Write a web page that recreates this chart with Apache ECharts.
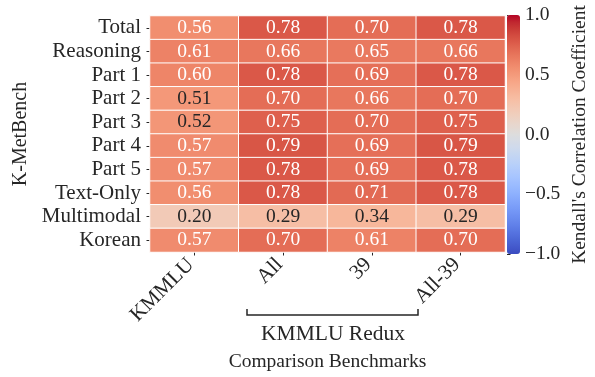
<!DOCTYPE html>
<html>
<head>
<meta charset="utf-8">
<script src="https://cdn.jsdelivr.net/npm/echarts@6/dist/echarts.min.js"></script>
<style>html,body{margin:0;padding:0;background:#fff;}#c{width:595px;height:377px;}</style>
</head>
<body>
<div id="c"></div>
<script>
const rows = ['Total','Reasoning','Part 1','Part 2','Part 3','Part 4','Part 5','Text-Only','Multimodal','Korean'];
const cols = ['KMMLU','All','39','All-39'];
const kmmlu = [0.56,0.61,0.60,0.51,0.52,0.57,0.57,0.56,0.20,0.57];
const reduxAll = [0.78,0.66,0.78,0.70,0.75,0.79,0.78,0.78,0.29,0.70];
const redux39 = [0.70,0.65,0.69,0.66,0.70,0.69,0.69,0.71,0.34,0.61];
const reduxAll39 = [0.78,0.66,0.78,0.70,0.75,0.79,0.78,0.78,0.29,0.70];
const cbarTicks = [-1.0,-0.5,0.0,0.5,1.0];

const columns = [kmmlu, reduxAll, redux39, reduxAll39];
const coolwarm = ['#3b4cc0','#445acc','#4d68d7','#5775e1','#6282ea','#6c8ef1','#779af7','#82a5fb','#8db0fe','#98b9ff','#a3c2ff','#aec9fd','#b8d0f9','#c2d5f4','#ccd9ee','#d5dbe6','#dddddd','#e5d8d1','#ecd3c5','#f1ccb9','#f5c4ad','#f7bba0','#f7b194','#f7a687','#f49a7b','#f18d6f','#ec7f63','#e57058','#de604d','#d55042','#cb3e38','#c0282f','#b40426'];
const FONT = "'Liberation Serif','Times New Roman',serif";
const data = [];
columns.forEach((arr, ci) => arr.forEach((v, ri) => {
  data.push({value:[ci, ri, v], label:{color: v < 0.54 ? '#262626' : '#ffffff'}});
}));

const chart = echarts.init(document.getElementById('c'), null, {renderer:'canvas'});
chart.setOption({
  animation:false,
  backgroundColor:'#fff',
  textStyle:{fontFamily:FONT},
  grid:[
    {left:150, right:90, top:16, bottom:123},
    {left:507, width:13, top:15, height:239}
  ],
  xAxis:[
    {type:'category', data:cols, gridIndex:0, position:'bottom',
     axisLine:{show:false}, splitLine:{show:false},
     axisTick:{show:true, alignWithLabel:true, length:3.5, lineStyle:{color:'#262626'}},
     axisLabel:{rotate:45, fontSize:21, color:'#262626', fontFamily:FONT, margin:6, interval:0, padding:[0,5,0,0]},
     name:'Comparison Benchmarks', nameLocation:'middle', nameGap:100,
     nameTextStyle:{fontSize:19.5, color:'#262626', fontFamily:FONT}},
    {type:'value', gridIndex:1, show:false, min:0, max:1}
  ],
  yAxis:[
    {type:'category', data:rows, inverse:true, gridIndex:0,
     axisLine:{show:false}, splitLine:{show:false},
     axisTick:{show:true, alignWithLabel:true, length:3.5, lineStyle:{color:'#262626'}},
     axisLabel:{fontSize:21, color:'#262626', fontFamily:FONT, margin:9, interval:0},
     name:'K-MetBench', nameLocation:'middle', nameGap:118, nameRotate:90,
     nameTextStyle:{fontSize:20, color:'#262626', fontFamily:FONT}},
    {type:'value', gridIndex:1, min:cbarTicks[0], max:cbarTicks[cbarTicks.length-1], interval:0.5, position:'right',
     axisLine:{show:false}, splitLine:{show:false},
     axisTick:{show:true, length:3.5, lineStyle:{color:'#262626'}},
     axisLabel:{fontSize:19.5, color:'#262626', fontFamily:FONT, margin:5,
       formatter:v => (v < 0 ? '\u2212' : '') + Math.abs(v).toFixed(1)},
     name:"Kendall's Correlation Coefficient", nameLocation:'middle', nameGap:50, nameRotate:90,
     nameTextStyle:{fontSize:19.5, color:'#262626', fontFamily:FONT}}
  ],
  visualMap:{type:'continuous', min:-1, max:1, orient:'vertical', left:507, top:15,
    itemWidth:13, itemHeight:239, padding:0, calculable:false, text:[], showLabel:false,
    hoverLink:false, seriesIndex:0, inRange:{color:coolwarm}},
  series:[{
    type:'heatmap', xAxisIndex:0, yAxisIndex:0, data:data,
    itemStyle:{borderColor:'#ffffff', borderWidth:1},
    label:{show:true, fontSize:19.5, fontFamily:FONT, formatter:p => p.value[2].toFixed(2)},
    emphasis:{disabled:true}
  }],
  graphic:[
    {type:'polyline', shape:{points:[[247,309],[247,315],[418,315],[418,309]]},
     style:{stroke:'#262626', lineWidth:1.5, fill:null}},
    {type:'text', x:333, y:334, style:{text:'KMMLU Redux', font:"21.5px 'Liberation Serif','Times New Roman',serif",
     fill:'#262626', textAlign:'center', textVerticalAlign:'middle'}}
  ]
});
</script>
</body>
</html>
